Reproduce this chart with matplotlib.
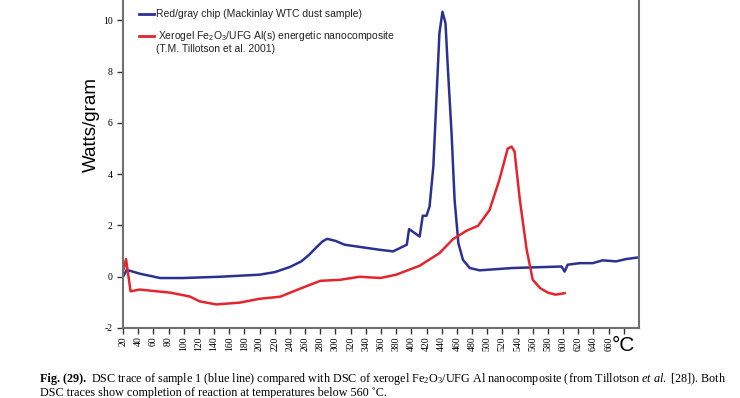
import numpy as np
import matplotlib
matplotlib.use('Agg')
import matplotlib.pyplot as plt

plt.rcParams['mathtext.fontset'] = 'custom'
plt.rcParams['mathtext.rm'] = 'Liberation Serif'
plt.rcParams['mathtext.it'] = 'Liberation Serif:italic'
plt.rcParams['mathtext.bf'] = 'Liberation Serif:bold'
plt.rcParams['mathtext.sf'] = 'Liberation Sans'

# DSC traces (temperature in C, Watts/gram)
chip_t = [20, 25, 42, 69, 99, 148, 200, 220, 240, 255, 265, 275, 283, 289, 300, 312, 340, 359, 376,
          394, 397, 411, 415, 420, 424, 429, 433, 437, 441, 445, 448, 453, 457, 462,
          468, 477, 490, 533, 598, 602, 606, 622, 639, 652, 670, 683, 698]
chip_w = [0.0, 0.27, 0.12, -0.05, -0.05, 0.0, 0.08, 0.18, 0.38, 0.6, 0.85, 1.15, 1.38, 1.48, 1.4, 1.25, 1.13, 1.05, 0.99,
          1.25, 1.86, 1.57, 2.38, 2.38, 2.74, 4.3, 6.9, 9.5, 10.34, 9.9, 8.2, 5.6, 3.0, 1.31,
          0.66, 0.34, 0.25, 0.34, 0.4, 0.2, 0.47, 0.53, 0.53, 0.64, 0.6, 0.69, 0.75]

xero_t = [21, 24, 30, 42, 82, 108, 121, 143, 174, 200, 227, 253, 280, 306, 332, 359,
          380, 411, 437, 455, 473, 488, 503, 516, 527, 532, 536, 543, 552, 560, 570,
          580, 590, 602]
xero_w = [0.3, 0.69, -0.57, -0.5, -0.62, -0.77, -0.96, -1.08, -1.01, -0.86, -0.78, -0.47, -0.16, -0.12, 0.0, -0.05,
          0.08, 0.43, 0.92, 1.47, 1.8, 1.99, 2.6, 3.78, 5.0, 5.08, 4.89, 3.0, 1.05, -0.12, -0.45,
          -0.62, -0.7, -0.64]

x_ticks = list(range(20, 700, 20))
x_labels = [str(t) for t in range(20, 680, 20)] + ['°C']
y_ticks = [-2, 0, 2, 4, 6, 8, 10]

blue = '#2b3192'
red = '#e3262d'
axis_gray = '#707070'

fig = plt.figure(figsize=(7.4, 3.98), dpi=100)
ax = fig.add_axes([0.1662, 0.1759, 0.6973, 0.8241])

ax.plot(chip_t, chip_w, color=blue, lw=1.8)
ax.plot(xero_t, xero_w, color=red, lw=1.8)

ax.set_xlim(20, 700)
ax.set_ylim(-2, 10.8)
ax.spines['top'].set_visible(False)
for s in ['left', 'bottom', 'right']:
    ax.spines[s].set_color(axis_gray)
    ax.spines[s].set_linewidth(1.5)

ax.set_yticks(y_ticks)
ax.set_yticklabels([str(v) for v in y_ticks], family='Liberation Serif', fontsize=7)
ax.set_xticks(x_ticks)
ax.set_xticklabels(x_labels, rotation=90, family='Liberation Serif', fontsize=7)
ax.tick_params(axis='both', direction='out', length=4, width=1, color='#333333')
ax.tick_params(axis='x', pad=2)
# last x label is the unit, drawn horizontally and larger
unit = ax.get_xticklabels()[-1]
unit.set_rotation(0)
unit.set_fontsize(15)
unit.set_family('Liberation Sans')

ax.set_ylabel('Watts/gram', family='Liberation Sans', fontsize=13.5)
ax.yaxis.set_label_coords(-0.044, 0.62)

# legend drawn by hand so the handle sits on the first line of a two-line label
ax.plot([0.031, 0.060], [0.957, 0.957], transform=ax.transAxes, color=blue, lw=2)
ax.text(0.064, 0.957, 'Red/gray chip (Mackinlay WTC dust sample)', transform=ax.transAxes,
        family='Liberation Sans', fontsize=7.5, va='center', color='#222222')
ax.plot([0.031, 0.060], [0.890, 0.890], transform=ax.transAxes, color=red, lw=2)
ax.text(0.068, 0.890, 'Xerogel Fe$\\mathsf{_2}$O$\\mathsf{_3}$/UFG Al(s) energetic nanocomposite',
        transform=ax.transAxes, family='Liberation Sans', fontsize=7.5, va='center', color='#222222')
ax.text(0.064, 0.850, '(T.M. Tillotson et al. 2001)', transform=ax.transAxes,
        family='Liberation Sans', fontsize=7.5, va='center', color='#222222')

cap_size = 8.7
fig.text(0.054, 0.047, 'Fig. (29).', family='Liberation Serif', weight='bold',
         fontsize=cap_size, va='center')
fig.text(0.1225, 0.047,
         'DSC trace of sample 1 (blue line) compared with DSC of xerogel Fe$_2$O$_3$/UFG Al nanocomposite (from Tillotson $\\it{et\\ al.}$ [28]). Both',
         family='Liberation Serif', fontsize=cap_size, va='center')
fig.text(0.054, 0.012, 'DSC traces show completion of reaction at temperatures below 560 \u02daC.',
         family='Liberation Serif', fontsize=cap_size, va='center')

fig.savefig('out.png', dpi=100)
